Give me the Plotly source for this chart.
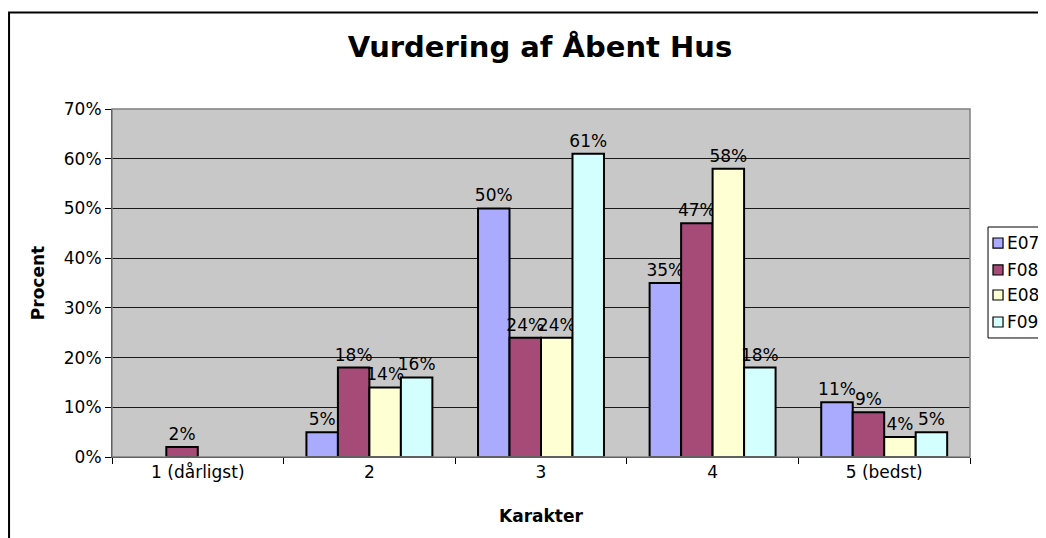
import plotly.graph_objects as go

categories = ["1 (dårligst)", "2", "3", "4", "5 (bedst)"]
series_names = ["E07", "F08", "E08", "F09"]
e07 = [None, 0.05, 0.50, 0.35, 0.11]
f08 = [0.02, 0.18, 0.24, 0.47, 0.09]
e08 = [None, 0.14, 0.24, 0.58, 0.04]
f09 = [None, 0.16, 0.61, 0.18, 0.05]
colors = ["#AAAAFF", "#A64A78", "#FFFFD4", "#D4FFFF"]
y_ticks = [0, 0.1, 0.2, 0.3, 0.4, 0.5, 0.6, 0.7]

FONT = "Verdana, DejaVu Sans, sans-serif"

fig = go.Figure()
for name, vals, col in zip(series_names, [e07, f08, e08, f09], colors):
    fig.add_trace(go.Bar(
        name=name, x=categories, y=vals,
        marker=dict(color=col, line=dict(color="#000000", width=2)),
        texttemplate="%{y:.0%}", textposition="outside",
        textfont=dict(family=FONT, size=17, color="#000000"),
        constraintext="none", cliponaxis=False, showlegend=False,
    ))

# Custom legend box (paper coordinates relative to plot area)
shapes = [
    dict(type="rect", xref="paper", yref="paper",
         x0=0, x1=1, y0=0, y1=1, line=dict(color="#808080", width=1.5),
         fillcolor="rgba(0,0,0,0)", layer="above"),
    dict(type="rect", xref="paper", yref="paper",
         x0=-0.1200, x1=1.2, y0=-0.3, y1=1.2773,
         line=dict(color="#000000", width=2), fillcolor="rgba(0,0,0,0)"),
    dict(type="rect", xref="paper", yref="paper",
         x0=1.0210, x1=1.2, y0=0.3420, y1=0.6609,
         line=dict(color="#000000", width=1), fillcolor="#FFFFFF"),
]
annotations = []
legend_y = [0.6149, 0.5374, 0.4655, 0.3879]
half = 0.0144
for name, col, ly in zip(series_names, colors, legend_y):
    shapes.append(dict(type="rect", xref="paper", yref="paper",
                       x0=1.0268, x1=1.0385, y0=ly - half, y1=ly + half,
                       line=dict(color="#000000", width=1.2), fillcolor=col))
    annotations.append(dict(text=name, xref="paper", yref="paper",
                            x=1.0408, y=ly, xanchor="left", yanchor="middle",
                            showarrow=False, font=dict(family=FONT, size=17)))

fig.update_layout(
    width=1046, height=538,
    margin=dict(l=104, r=84, t=101, b=89, autoexpand=False),
    paper_bgcolor="#FFFFFF", plot_bgcolor="#C8C8C8",
    barmode="group", bargap=0.266, bargroupgap=0,
    font=dict(family=FONT, size=17, color="#000000"),
    title=dict(text="<b>Vurdering af Åbent Hus</b>", x=0.5086, xanchor="center",
               y=0.9275, yanchor="middle", font=dict(family=FONT, size=29)),
    showlegend=False,
    xaxis=dict(
        title=dict(text="<b>Karakter</b>", font=dict(family=FONT, size=17), standoff=28),
        ticks="outside", tickson="boundaries", ticklen=6, tickcolor="#000000",
        showline=True, linecolor="#000000", linewidth=1, mirror=False,
        tickfont=dict(family=FONT, size=17),
    ),
    yaxis=dict(
        title=dict(text="<b>Procent</b>", font=dict(family=FONT, size=17), standoff=14),
        range=[0, 0.7], tickvals=y_ticks, tickformat=".0%",
        ticks="outside", ticklen=6, tickcolor="#000000",
        showline=True, linecolor="#000000", linewidth=1,
        showgrid=True, gridcolor="#1A1A1A", gridwidth=1,
        tickfont=dict(family=FONT, size=17), zeroline=False,
    ),
    shapes=shapes,
    annotations=annotations,
)

fig.write_html("out.html")
